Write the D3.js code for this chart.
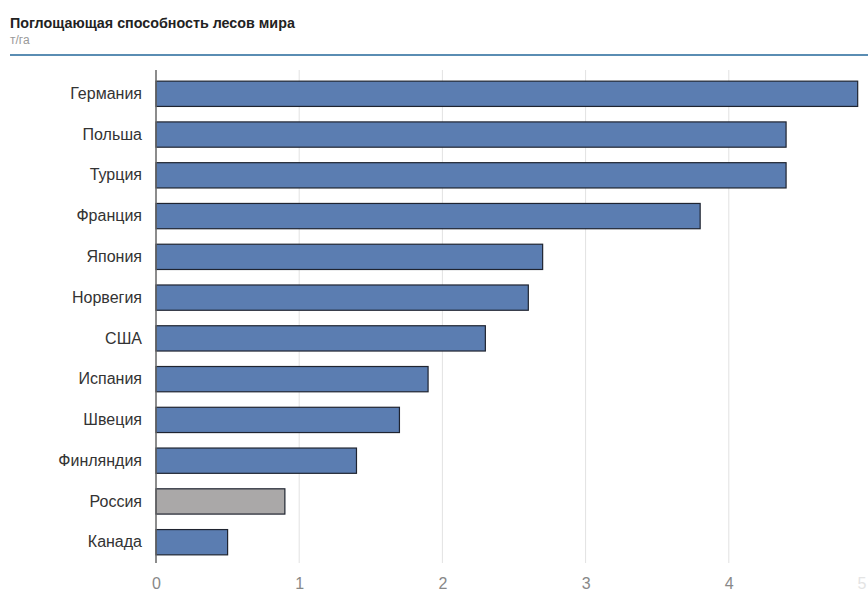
<!DOCTYPE html>
<html>
<head>
<meta charset="utf-8">
<script src="https://cdn.jsdelivr.net/npm/d3@7"></script>
<style>
  body { margin: 0; background: #fff; font-family: "Liberation Sans", Arial, sans-serif; }
  svg { display: block; }
</style>
</head>
<body>
<svg id="chart" width="868" height="591"></svg>
<script>
// chart data
const countries = ["Германия", "Польша", "Турция", "Франция", "Япония", "Норвегия",
                   "США", "Испания", "Швеция", "Финляндия", "Россия", "Канада"];
const absorption = [4.9, 4.4, 4.4, 3.8, 2.7, 2.6, 2.3, 1.9, 1.7, 1.4, 0.9, 0.5];
const xTicks = [0, 1, 2, 3, 4, 5];
const highlight = "Россия";

const svg = d3.select("#chart");
const W = 868, H = 591;

// header
svg.append("text")
  .attr("x", 10).attr("y", 28)
  .attr("font-size", 14.3).attr("font-weight", "bold").attr("fill", "#222")
  .text("Поглощающая способность лесов мира");
svg.append("text")
  .attr("x", 10).attr("y", 44)
  .attr("font-size", 12).attr("fill", "#999")
  .text("т/га");
svg.append("line")
  .attr("x1", 10).attr("x2", W).attr("y1", 55).attr("y2", 55)
  .attr("stroke", "#5a8db3").attr("stroke-width", 2);

// scales
const x = d3.scaleLinear().domain([0, 5]).range([156, 872]);
const y = d3.scaleBand().domain(countries).range([73, 563]).paddingInner(0.38).paddingOuter(0.2);

// grid
svg.append("g")
  .selectAll("line")
  .data(xTicks.slice(1))
  .join("line")
    .attr("x1", d => x(d)).attr("x2", d => x(d))
    .attr("y1", 70).attr("y2", 563)
    .attr("stroke", "#e2e2e2").attr("stroke-width", 1);

// bars
svg.append("g")
  .selectAll("rect")
  .data(countries)
  .join("rect")
    .attr("x", x(0))
    .attr("y", d => y(d))
    .attr("width", (d, i) => x(absorption[i]) - x(0))
    .attr("height", y.bandwidth())
    .attr("fill", d => d === highlight ? "#aaa8a8" : "#5b7db1")
    .attr("stroke", "#1f2430").attr("stroke-width", 1.2);

// baseline
svg.append("line")
  .attr("x1", x(0)).attr("x2", x(0)).attr("y1", 70).attr("y2", 563)
  .attr("stroke", "#666").attr("stroke-width", 1.5);

// category labels
const yAxis = svg.append("g")
  .attr("transform", `translate(${x(0) - 14},0)`)
  .call(d3.axisLeft(y).tickSize(0).tickPadding(0));
yAxis.select(".domain").remove();
yAxis.selectAll("text")
  .attr("font-family", "Liberation Sans, Arial, sans-serif")
  .attr("font-size", 16).attr("fill", "#333");

// value axis (the last tick sits at the right edge, so pull it inside)
const xAxis = svg.append("g")
  .attr("transform", "translate(0,576)")
  .call(d3.axisBottom(x).tickValues(xTicks).tickSize(0).tickPadding(0).tickFormat(d3.format("d")));
xAxis.select(".domain").remove();
xAxis.selectAll("text")
  .attr("dy", "0.8em")
  .attr("font-family", "Liberation Sans, Arial, sans-serif")
  .attr("font-size", 16)
  .attr("text-anchor", d => d === 5 ? "end" : "middle")
  .attr("dx", d => d === 5 ? -6 : 0)
  .attr("fill", d => d === 5 ? "#e4e4e4" : "#888");
</script>
</body>
</html>
